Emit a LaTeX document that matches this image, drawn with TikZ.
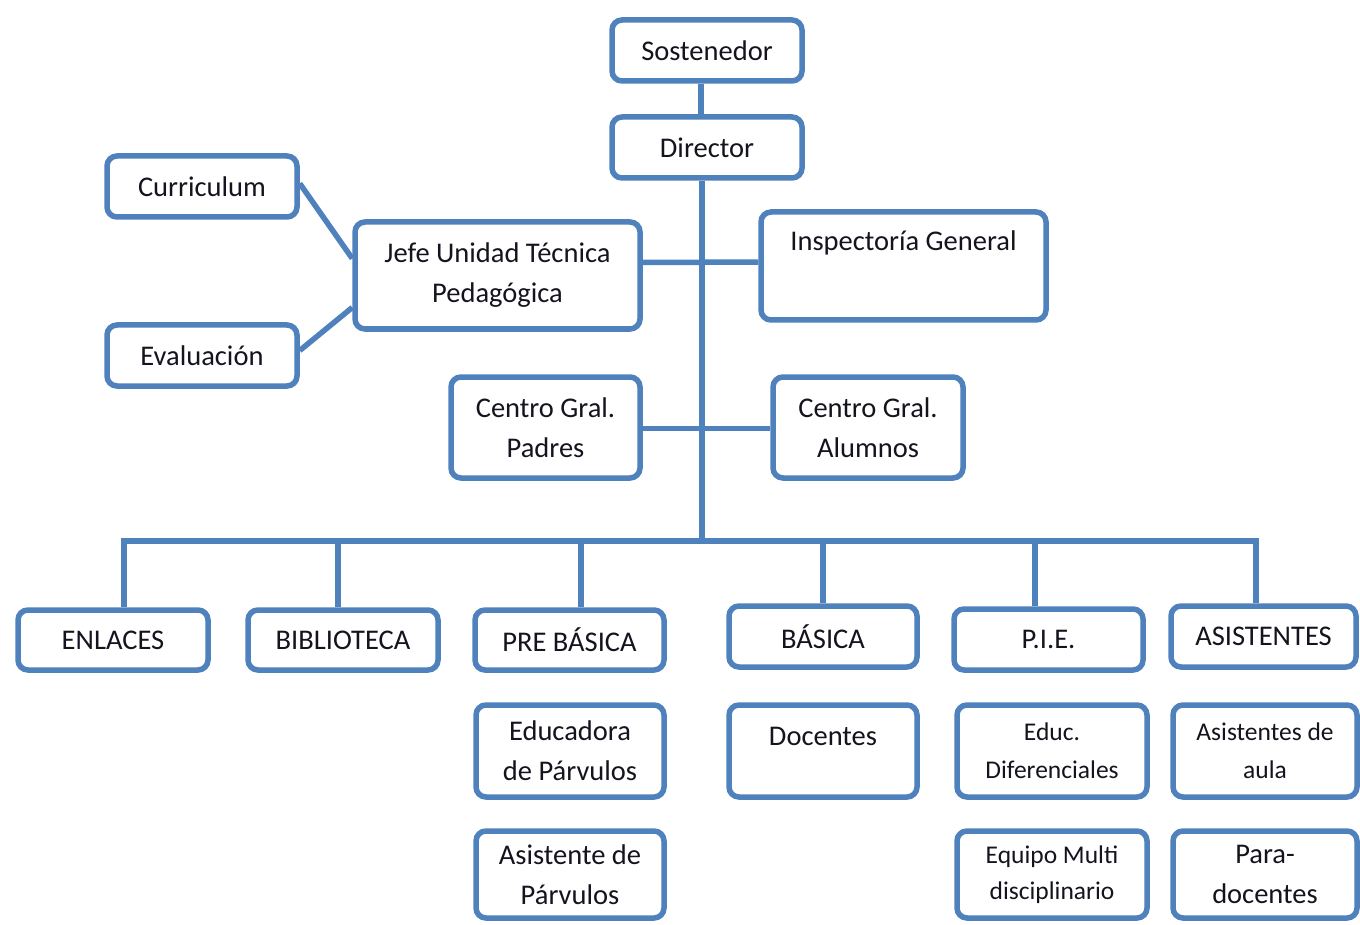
\documentclass[tikz,border=0pt]{standalone}
\usepackage{fontspec}
\setmainfont{Carlito}
\definecolor{blu}{RGB}{79,129,189}
\definecolor{txt}{RGB}{20,20,30}
\begin{document}
\begin{tikzpicture}[x=1pt,y=-1pt,
  box/.style={draw=blu, line width=5.5pt, rounded corners=10pt, fill=white,
    align=center, inner sep=0pt, text=txt, font=\fontsize{28.5}{40}\selectfont},
  sbox/.style={box, font=\fontsize{25.5}{38}\selectfont},
  conn/.style={draw=blu, line width=5.5pt}]
\useasboundingbox (0,0) rectangle (1360,925);
% top
\node[box, minimum width=190pt, minimum height=61pt] (sost) at (707,50.5) {Sostenedor};
\node[box, minimum width=190pt, minimum height=61pt] (dir) at (707,147.5) {Director};
\node[box, minimum width=190pt, minimum height=61pt] (cur) at (202,186.5) {Curriculum};
\node[box, minimum width=190pt, minimum height=61pt] (eva) at (202,355.5) {Evaluación};
\node[box, minimum width=285pt, minimum height=107pt] (jefe) at (497.5,275.5) {Jefe Unidad Técnica\\Pedagógica};
\node[box, minimum width=285pt, minimum height=108pt] (insp) at (903.5,266) {Inspectoría General\\[-2pt]\strut};
\node[box, minimum width=189pt, minimum height=101pt] (pad) at (545.5,427.5) {Centro Gral.\\Padres};
\node[box, minimum width=190pt, minimum height=101pt] (alu) at (868,427.5) {Centro Gral.\\Alumnos};
% second level
\node[box, minimum width=190pt, minimum height=60pt] (enl) at (113,640) {ENLACES};
\node[box, minimum width=190pt, minimum height=60pt] (bib) at (343,640) {BIBLIOTECA};
\node[box, minimum width=189pt, minimum height=60pt] (pre) at (569.5,640) {PRE BÁSICA};
\node[box, minimum width=188pt, minimum height=61pt] (bas) at (823,636.5) {BÁSICA};
\node[box, minimum width=189pt, minimum height=61pt] (pie) at (1048.5,639.5) {P.I.E.};
\node[box, minimum width=185pt, minimum height=61pt] (asi) at (1263.5,636.5) {ASISTENTES};
% third level
\node[box, minimum width=188pt, minimum height=92pt] (edu) at (570,751) {Educadora\\de Párvulos};
\node[box, minimum width=188pt, minimum height=87pt] (apa) at (570,874.5) {Asistente de\\Párvulos};
\node[box, minimum width=188pt, minimum height=92pt] (doc) at (823,751) {Docentes\\[-22pt]\strut};
\node[sbox, minimum width=190pt, minimum height=92pt] (dif) at (1052,751) {Educ.\\Diferenciales};
\node[sbox, minimum width=190pt, minimum height=87pt, font=\fontsize{25.5}{36}\selectfont] (mul) at (1052,874.5) {Equipo Multi\\disciplinario};
\node[sbox, minimum width=184pt, minimum height=92pt] (aul) at (1265,751) {Asistentes de\\aula};
\node[box, minimum width=184pt, minimum height=87pt] (par) at (1265,874.5) {Para-\\docentes};
% connectors
\coordinate (bL) at (124,541);
\coordinate (bR) at (1256,541);
\draw[conn] ([xshift=-6pt]sost.south) -- ([xshift=-6pt]dir.north);
\draw[conn] ([xshift=-5pt]dir.south) -- ([xshift=-5pt]dir.south |- bL);
\draw[conn] ([yshift=13pt]jefe.east) -- ([yshift=4pt]insp.west);
\draw[conn] ([yshift=-1pt]pad.east) -- ([yshift=-1pt]alu.west);
\draw[conn] (enl.north -| bL) -- (bL) -- (bR) -- (asi.north -| bR);
\draw[conn] ([xshift=-5pt]bib.north) -- ([xshift=-5pt]bib.north |- bL);
\draw[conn] ([xshift=11.5pt]pre.north) -- ([xshift=11.5pt]pre.north |- bL);
\draw[conn] (bas.north) -- (bas.north |- bL);
\draw[conn] ([xshift=-13.5pt]pie.north) -- ([xshift=-13.5pt]pie.north |- bL);
\draw[conn] ([yshift=3pt]cur.east) -- ([yshift=17pt]jefe.west);
\draw[conn] ([yshift=5pt]eva.east) -- ([yshift=-32pt]jefe.west);
\end{tikzpicture}
\end{document}
